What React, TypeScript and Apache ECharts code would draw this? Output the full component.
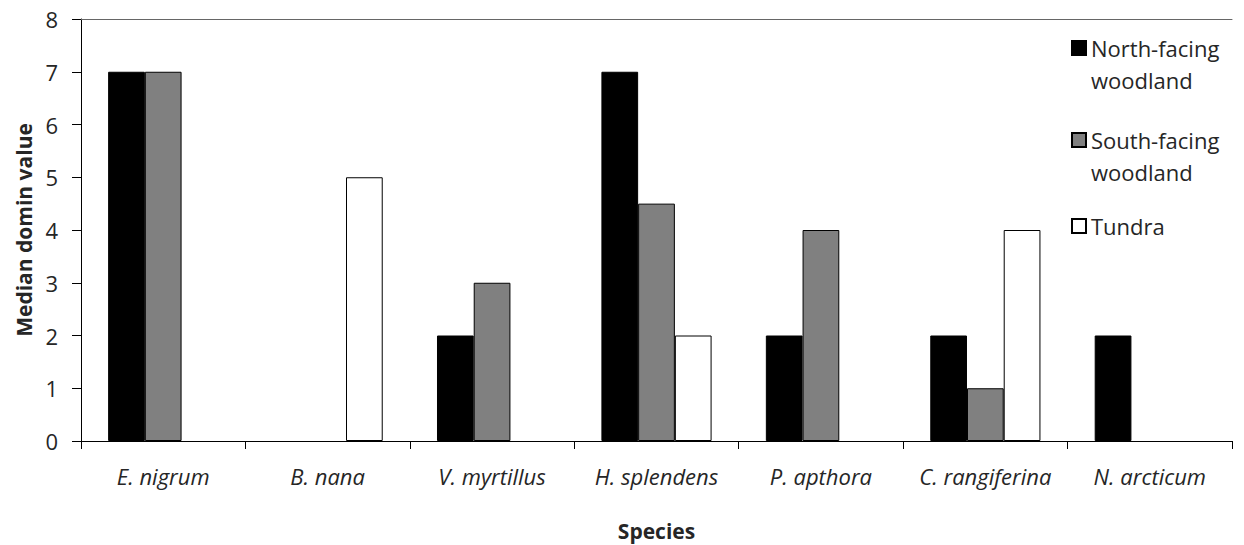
import React, { useEffect, useRef } from "react";
import * as echarts from "echarts";

const categories = ["E. nigrum", "B. nana", "V. myrtillus", "H. splendens", "P. apthora", "C. rangiferina", "N. arcticum"];
const northValues = [7, null, 2, 7, 2, 2, 2];
const southValues = [7, null, 3, 4.5, 4, 1, null];
const tundraValues = [null, 5, null, 2, null, 4, null];
const seriesNames = ["North-facing\nwoodland", "South-facing\nwoodland", "Tundra"];
const yTicks = [0, 1, 2, 3, 4, 5, 6, 7, 8];

const FONT = "Open Sans";
const TEXT = "#262626";

export default function App() {
  const ref = useRef<HTMLDivElement>(null);
  useEffect(() => {
    const chart = echarts.init(ref.current!, null, { renderer: "svg" });
    const barStyle = (color: string) => ({ color, borderColor: "#000", borderWidth: 1 });
    chart.setOption({
      animation: false,
      backgroundColor: "#fff",
      textStyle: { fontFamily: FONT },
      grid: { left: 81, top: 19, width: 1151, height: 422, containLabel: false, outerBoundsMode: "none" },
      legend: {
        orient: "vertical",
        left: 1071,
        top: 0,
        padding: 0,
        itemWidth: 14,
        itemHeight: 14,
        itemGap: -4,
        icon: "rect",
        data: [
          { name: seriesNames[0] },
          { name: seriesNames[1] },
          { name: seriesNames[2], textStyle: { lineHeight: 28 } },
        ],
        formatter: (name: string) => "\n" + (name.indexOf("\n") >= 0 ? name : name + "\n "),
        textStyle: { fontFamily: FONT, fontSize: 22, color: TEXT, lineHeight: 32 },
      },
      xAxis: [
        {
          type: "category",
          data: categories,
          name: "Species",
          nameLocation: "middle",
          nameGap: 79,
          nameTextStyle: { fontFamily: FONT, fontSize: 21, fontWeight: "bold", color: TEXT },
          axisLine: { lineStyle: { color: "#000", width: 1 } },
          axisTick: { show: true, length: 8, lineStyle: { color: "#000" } },
          axisLabel: { interval: 0, fontFamily: FONT, fontSize: 22, fontStyle: "italic", color: TEXT, margin: 24 },
        },
        {
          type: "category",
          data: categories,
          position: "top",
          axisLine: { show: true, lineStyle: { color: "#666", width: 1 } },
          axisTick: { show: false },
          axisLabel: { show: false },
        },
      ],
      yAxis: {
        type: "value",
        min: yTicks[0],
        max: yTicks[yTicks.length - 1],
        interval: 1,
        name: "Median domin value",
        nameLocation: "middle",
        nameGap: 44,
        nameTextStyle: { fontFamily: FONT, fontSize: 21, fontWeight: "bold", color: TEXT },
        axisLine: { show: true, lineStyle: { color: "#000", width: 1 } },
        axisTick: { show: true, length: 9, lineStyle: { color: "#000" } },
        axisLabel: { fontFamily: FONT, fontSize: 22, color: TEXT, margin: 23 },
        splitLine: { show: false },
      },
      series: [
        { name: seriesNames[0], type: "bar", data: northValues, barGap: "0%", barCategoryGap: "33%", itemStyle: barStyle("#000000") },
        { name: seriesNames[1], type: "bar", data: southValues, barGap: "0%", barCategoryGap: "33%", itemStyle: barStyle("#808080") },
        { name: seriesNames[2], type: "bar", data: tundraValues, barGap: "0%", barCategoryGap: "33%", itemStyle: barStyle("#ffffff") },
      ],
    });
    return () => chart.dispose();
  }, []);
  return <div ref={ref} style={{ position: "fixed", left: 0, top: 0, width: 1244, height: 545 }} />;
}
